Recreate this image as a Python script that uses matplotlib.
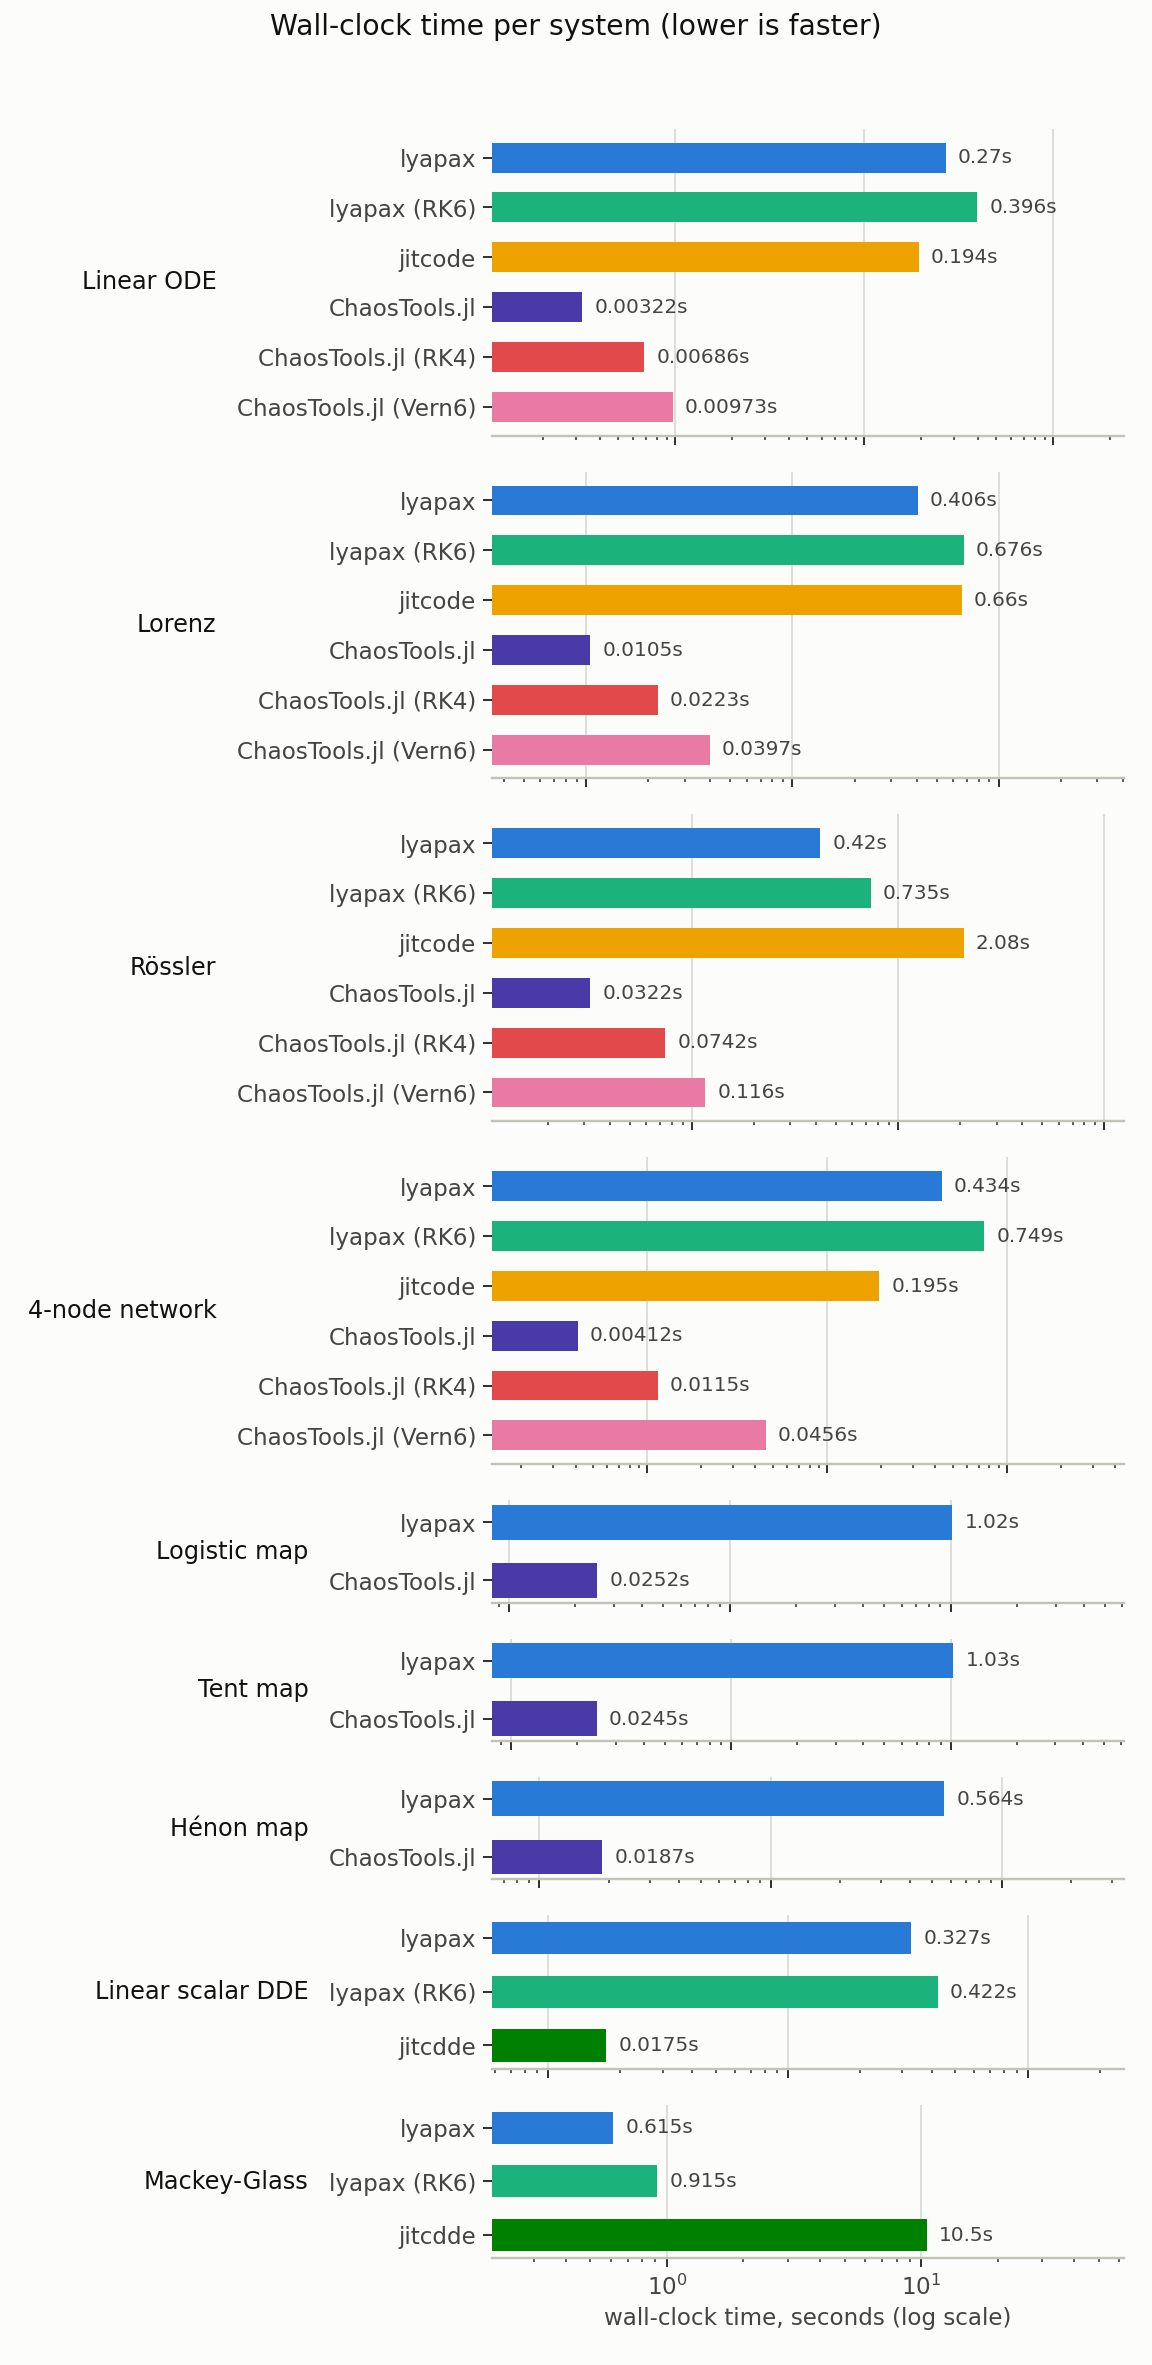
import matplotlib
matplotlib.use("Agg")
import matplotlib.pyplot as plt
import numpy as np

BG = "#fcfcfa"
TEXT_GRAY = "#444444"

systems = ["Linear ODE", "Lorenz", "Rössler", "4-node network",
           "Logistic map", "Tent map", "Hénon map", "Linear scalar DDE", "Mackey-Glass"]

ode_methods = ["lyapax", "lyapax (RK6)", "jitcode", "ChaosTools.jl",
               "ChaosTools.jl (RK4)", "ChaosTools.jl (Vern6)"]
map_methods = ["lyapax", "ChaosTools.jl"]
dde_methods = ["lyapax", "lyapax (RK6)", "jitcdde"]

linear_ode = [0.27, 0.396, 0.194, 0.00322, 0.00686, 0.00973]
lorenz = [0.406, 0.676, 0.66, 0.0105, 0.0223, 0.0397]
rossler = [0.42, 0.735, 2.08, 0.0322, 0.0742, 0.116]
network4 = [0.434, 0.749, 0.195, 0.00412, 0.0115, 0.0456]
logistic = [1.02, 0.0252]
tent = [1.03, 0.0245]
henon = [0.564, 0.0187]
linear_dde = [0.327, 0.422, 0.0175]
mackey_glass = [0.615, 0.915, 10.5]

method_colors = {
    "lyapax": "#2979d6",
    "lyapax (RK6)": "#1bb27b",
    "jitcode": "#eea200",
    "ChaosTools.jl": "#4a3aa8",
    "ChaosTools.jl (RK4)": "#e2494a",
    "ChaosTools.jl (Vern6)": "#e87aa4",
    "jitcdde": "#008000",
}

panels = [
    (ode_methods, linear_ode), (ode_methods, lorenz), (ode_methods, rossler),
    (ode_methods, network4), (map_methods, logistic), (map_methods, tent),
    (map_methods, henon), (dde_methods, linear_dde), (dde_methods, mackey_glass),
]

DPI = 144
plt.rcParams["font.family"] = ["DejaVu Sans"]
fig = plt.figure(figsize=(1152.3 / DPI, 2365.3 / DPI), dpi=DPI, facecolor=BG)
gs = fig.add_gridspec(len(panels), 1, height_ratios=[len(m) for m, _ in panels],
                      left=0.427, right=0.9757, top=0.94545, bottom=0.04524, hspace=0.176)

for i, (name, (methods, vals)) in enumerate(zip(systems, panels)):
    ax = fig.add_subplot(gs[i])
    ax.set_facecolor(BG)
    y = np.arange(len(methods))
    colors = [method_colors[m] for m in methods]
    ax.set_xscale("log")
    bars = ax.barh(y, vals, height=0.6, color=colors, zorder=3)
    ax.set_xlim(min(vals) / 3, max(vals) * 6)
    ax.set_yticks(y)
    ax.set_yticklabels(methods, fontsize=11.5, color=TEXT_GRAY)
    ax.invert_yaxis()
    for b, v in zip(bars, vals):
        ax.annotate(f"{v:.3g}s", xy=(v, b.get_y() + b.get_height() / 2),
                    xytext=(6, 0), textcoords="offset points",
                    ha="left", va="center", fontsize=10, color=TEXT_GRAY)
    ax.grid(True, axis="x", which="major", color="#deded8", linewidth=1.0, zorder=0)
    ax.grid(False, axis="y")
    for s in ["top", "right", "left"]:
        ax.spines[s].set_visible(False)
    ax.spines["bottom"].set_color("#c2c2b6")
    ax.spines["bottom"].set_linewidth(1.2)
    ax.tick_params(axis="both", which="major", length=4.5, width=1.0,
                   colors="#333333", labelcolor=TEXT_GRAY)
    ax.tick_params(axis="both", which="minor", length=2.2, width=0.8, colors="#333333")
    ax.tick_params(axis="x", labelsize=11.5)
    if i < len(panels) - 1:
        ax.tick_params(axis="x", which="both", labelbottom=False)
    else:
        ax.set_xlabel("wall-clock time, seconds (log scale)", fontsize=11.5, color=TEXT_GRAY)
    ax.set_ylabel(name, rotation=0, ha="right", va="center", fontsize=12,
                  color="#111111", labelpad=10)

fig.suptitle("Wall-clock time per system (lower is faster)", fontsize=14.1,
             y=0.9945, va="top", color="#111111")
fig.savefig("out.png", dpi=DPI, facecolor=BG)
